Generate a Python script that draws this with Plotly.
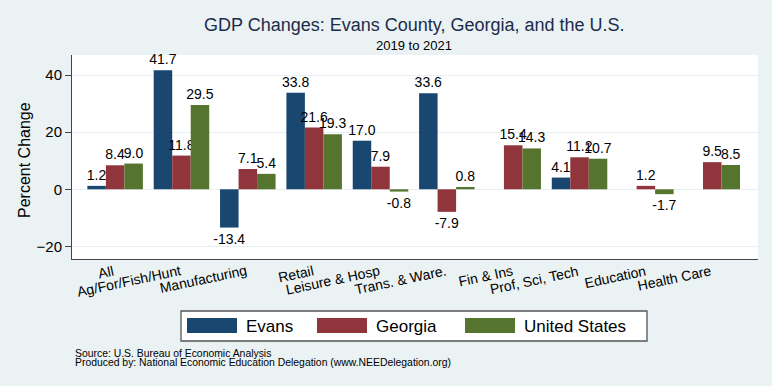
import plotly.graph_objects as go

categories = ["All", "Ag/For/Fish/Hunt", "Manufacturing", "Retail", "Leisure & Hosp",
              "Trans. & Ware.", "Fin & Ins", "Prof, Sci, Tech", "Education", "Health Care"]
evans = [1.2, 41.7, -13.4, 33.8, 17.0, 33.6, None, 4.1, None, None]
georgia = [8.4, 11.8, 7.1, 21.6, 7.9, -7.9, 15.4, 11.2, 1.2, 9.5]
united_states = [9.0, 29.5, 5.4, 19.3, -0.8, 0.8, 14.3, 10.7, -1.7, 8.5]
series_names = ["Evans", "Georgia", "United States"]
series_values = [evans, georgia, united_states]
colors = ["#1a476f", "#90353b", "#55752f"]
y_ticks = [-20, 0, 20, 40]

FONT = "Liberation Sans, Arial, Helvetica, sans-serif"
W, H = 772, 386
L, R, T, B = 72, 14, 55, 127
PW, PH = W - L - R, H - T - B


def px(x):
    return (x - L) / PW


def py(y):
    return (H - B - y) / PH


fig = go.Figure()
for name, vals, col in zip(series_names, series_values, colors):
    fig.add_trace(go.Bar(
        x=list(range(len(categories))), y=vals, name=name,
        marker=dict(color=col, line=dict(width=0)),
        texttemplate="%{y:.1f}", textposition="outside",
        textfont=dict(size=14, color="black", family=FONT),
        cliponaxis=False, constraintext="none", showlegend=False,
        hoverinfo="skip",
    ))

shapes = []
annotations = []

# category labels (rotated, right end at the tick)
for i, cat in enumerate(categories):
    annotations.append(dict(text=cat, xref="x", yref="paper", x=i, y=py(260),
                            xanchor="right", yanchor="top", textangle=-12, xshift=3,
                            showarrow=False, font=dict(size=14, color="black", family=FONT)))

# legend
shapes.append(dict(type="rect", xref="paper", yref="paper",
                   x0=px(181), x1=px(647), y0=py(341), y1=py(311),
                   fillcolor="white", line=dict(color="#555555", width=1.3)))
sw_x = [187, 317, 465]
for i, (name, col) in enumerate(zip(series_names, colors)):
    shapes.append(dict(type="rect", xref="paper", yref="paper",
                       x0=px(sw_x[i]), x1=px(sw_x[i] + 50), y0=py(333), y1=py(318),
                       fillcolor=col, line=dict(width=0)))
    annotations.append(dict(text=name, xref="paper", yref="paper",
                            x=px(sw_x[i] + 57), y=py(326), xanchor="left", yanchor="middle",
                            showarrow=False, font=dict(size=17, color="black", family=FONT)))

# titles
annotations.append(dict(text="GDP Changes: Evans County, Georgia, and the U.S.", xref="paper", yref="paper",
                        x=px(414), y=py(25), xanchor="center", yanchor="middle", showarrow=False,
                        font=dict(size=18, color="#1c2b4a", family=FONT)))
annotations.append(dict(text="2019 to 2021", xref="paper", yref="paper",
                        x=px(414), y=py(46), xanchor="center", yanchor="middle", showarrow=False,
                        font=dict(size=13, color="black", family=FONT)))
annotations.append(dict(text="Percent Change", xref="paper", yref="paper",
                        x=px(24), y=py(160), xanchor="center", yanchor="middle", textangle=-90,
                        showarrow=False, font=dict(size=16, color="black", family=FONT)))
annotations.append(dict(text="Source: U.S. Bureau of Economic Analysis", xref="paper", yref="paper",
                        x=px(73), y=py(353), xanchor="left", yanchor="middle", showarrow=False,
                        font=dict(size=10.4, color="black", family=FONT)))
annotations.append(dict(text="Produced by: National Economic Education Delegation (www.NEEDelegation.org)",
                        xref="paper", yref="paper",
                        x=px(73), y=py(362), xanchor="left", yanchor="middle", showarrow=False,
                        font=dict(size=10.4, color="black", family=FONT)))

fig.update_layout(
    width=W, height=H,
    margin=dict(l=L, r=R, t=T, b=B, pad=0),
    paper_bgcolor="#eaf2f3", plot_bgcolor="white",
    barmode="group", bargap=0.163, bargroupgap=0,
    font=dict(family=FONT, color="black"),
    shapes=shapes, annotations=annotations,
    xaxis=dict(range=[-0.65, 9.69], tickmode="array",
               tickvals=list(range(len(categories))), showticklabels=False,
               ticks="", showgrid=False, zeroline=False,
               showline=True, linecolor="#444444", linewidth=1),
    yaxis=dict(range=[-24.4, 47.0], tickmode="array", tickvals=y_ticks,
               ticks="outside", ticklen=6, tickcolor="#444444",
               showgrid=True, gridcolor="#e6eff1", gridwidth=1, zeroline=False,
               showline=True, linecolor="#444444", linewidth=1,
               tickfont=dict(size=15, color="black", family=FONT)),
)

fig.write_html("out.html", config={"displayModeBar": False},
               post_script="document.body.style.margin='0px';document.body.style.padding='0px';")
